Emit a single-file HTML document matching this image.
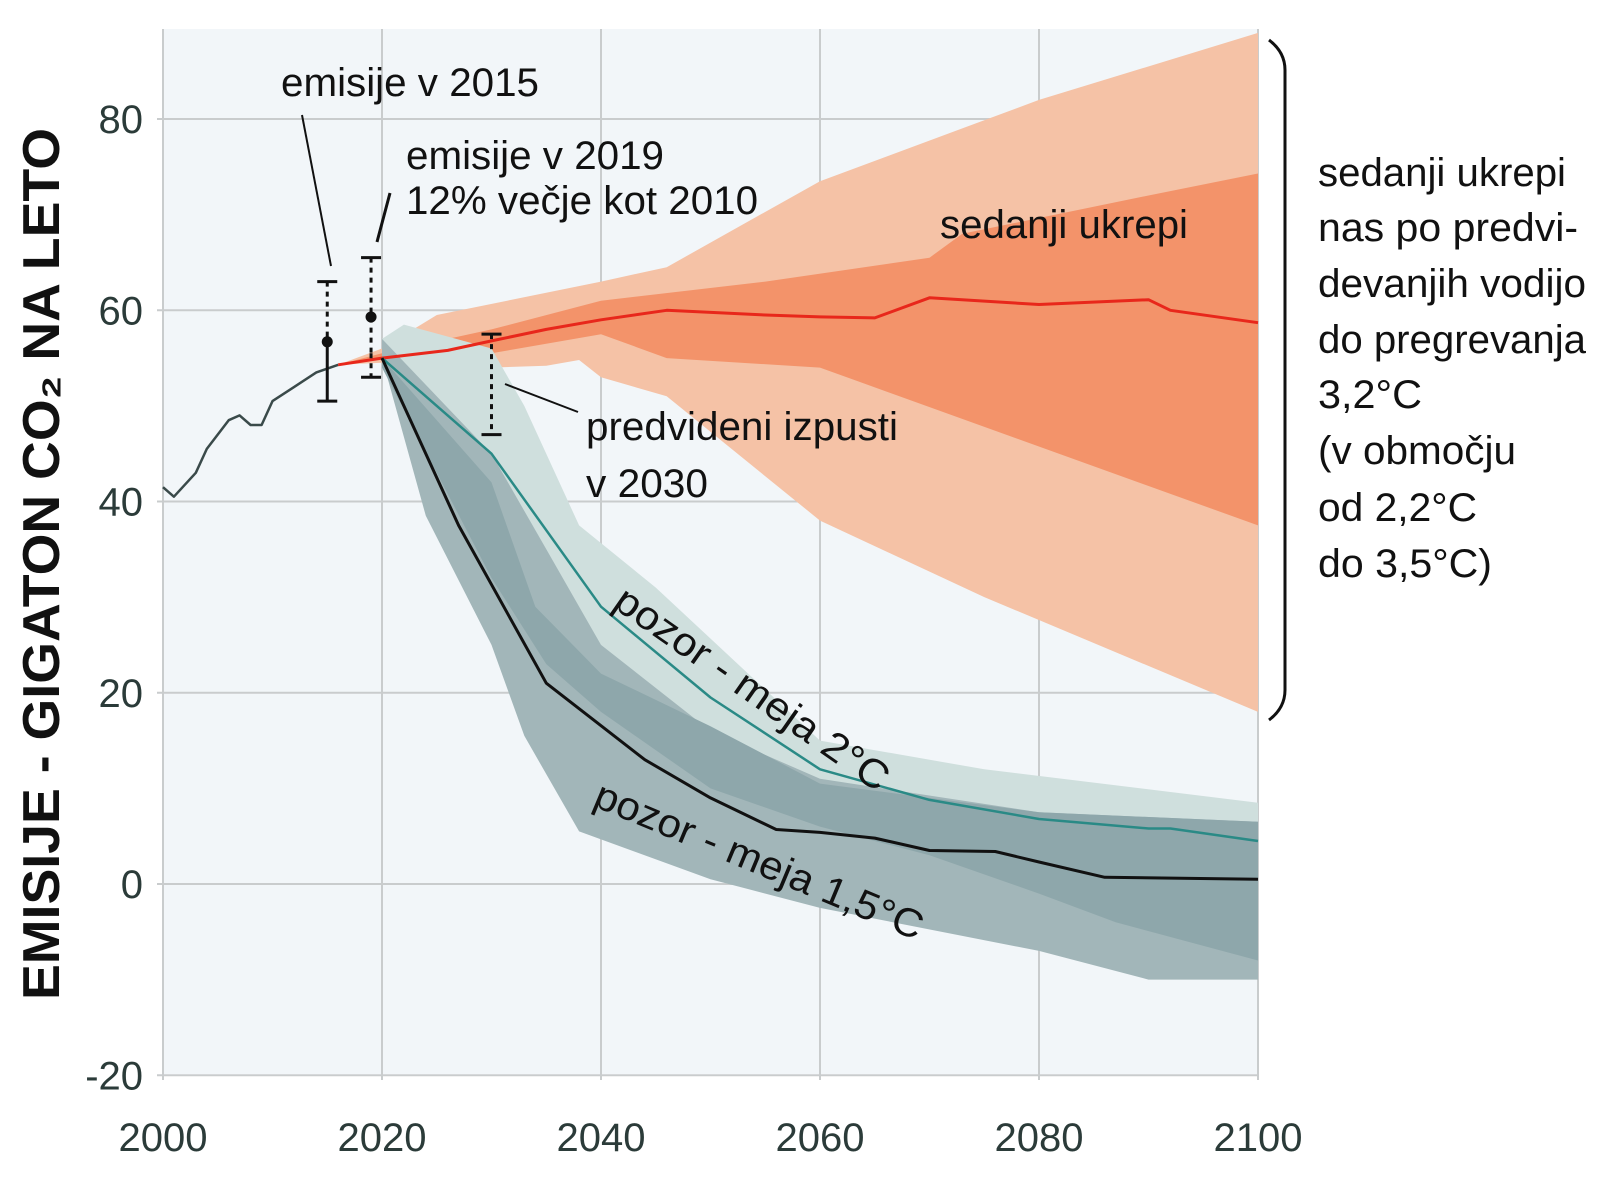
<!DOCTYPE html>
<html><head><meta charset="utf-8"><style>
html,body{margin:0;padding:0;background:#fff;}
svg{display:block;font-family:"Liberation Sans",sans-serif;}
</style></head><body>
<svg id="chart" width="1614" height="1180" viewBox="0 0 1614 1180" xmlns="http://www.w3.org/2000/svg">
<rect x="163" y="29" width="1095" height="1045" fill="#f2f6f9"/>
<g id="grid"></g>
<g id="bands"></g>
<g id="lines"></g>
<g id="errs"></g>
<g id="ticks"></g>
<text x="42" y="564" transform="rotate(-90 42 564)" text-anchor="middle" dominant-baseline="central" font-size="52" font-weight="bold" fill="#111" textLength="872" lengthAdjust="spacingAndGlyphs">EMISIJE - GIGATON CO₂ NA LETO</text>
<g font-size="40" fill="#111">
<text x="281" y="96" textLength="258" lengthAdjust="spacingAndGlyphs">emisije v 2015</text>
<text x="406" y="169" textLength="258" lengthAdjust="spacingAndGlyphs">emisije v 2019</text>
<text x="406" y="214" textLength="352" lengthAdjust="spacingAndGlyphs">12% večje kot 2010</text>
<text x="940" y="238" textLength="248" lengthAdjust="spacingAndGlyphs">sedanji ukrepi</text>
<text x="586" y="440" textLength="312" lengthAdjust="spacingAndGlyphs">predvideni izpusti</text>
<text x="586" y="497" textLength="122" lengthAdjust="spacingAndGlyphs">v 2030</text>
<text x="752" y="689" transform="rotate(35 752 689)" text-anchor="middle" dominant-baseline="central" textLength="325" lengthAdjust="spacingAndGlyphs">pozor - meja 2°C</text>
<text x="759" y="861" transform="rotate(22.6 759 861)" text-anchor="middle" dominant-baseline="central" textLength="352" lengthAdjust="spacingAndGlyphs">pozor - meja 1,5°C</text>
<line x1="302" y1="115" x2="331" y2="266" stroke="#111" stroke-width="2"/>
<line x1="390" y1="193" x2="377" y2="242" stroke="#111" stroke-width="3"/>
<line x1="505" y1="384" x2="578" y2="412" stroke="#111" stroke-width="2"/>
<path d="M1269 40 Q1285 52 1285 70 L1285 690 Q1285 708 1269 720" fill="none" stroke="#111" stroke-width="3"/>
<g>
<text x="1318" y="186" textLength="248" lengthAdjust="spacingAndGlyphs">sedanji ukrepi</text>
<text x="1318" y="241" textLength="260" lengthAdjust="spacingAndGlyphs">nas po predvi-</text>
<text x="1318" y="297" textLength="268" lengthAdjust="spacingAndGlyphs">devanjih vodijo</text>
<text x="1318" y="353" textLength="268" lengthAdjust="spacingAndGlyphs">do pregrevanja</text>
<text x="1318" y="408" textLength="104" lengthAdjust="spacingAndGlyphs">3,2°C</text>
<text x="1318" y="464" textLength="198" lengthAdjust="spacingAndGlyphs">(v območju</text>
<text x="1318" y="521" textLength="159" lengthAdjust="spacingAndGlyphs">od 2,2°C</text>
<text x="1318" y="577" textLength="174" lengthAdjust="spacingAndGlyphs">do 3,5°C)</text>
</g>
</g>
</svg>
<script>
const xTicks=[2000,2020,2040,2060,2080,2100];
const yTicks=[-20,0,20,40,60,80];
const histYears=[2000,2001,2003,2004,2006,2007,2008,2009,2010,2012,2014,2016];
const histVals=[41.5,40.5,43,45.5,48.5,49,48,48,50.5,52,53.5,54.3];
const curYears=[2016,2020,2026,2030,2035,2040,2046,2055,2060,2065,2070,2080,2090,2092,2100];
const curVals=[54.3,55,55.8,56.8,58,59,60,59.5,59.3,59.2,61.3,60.6,61.1,60,58.7];
const orOutUpY=[2016,2020,2025,2040,2046,2060,2080,2100];
const orOutUpV=[54.3,56,59.5,63,64.5,73.5,82,89];
const orOutLoY=[2016,2020,2030,2035,2038,2040,2046,2060,2075,2100];
const orOutLoV=[54.3,54.5,54,54.2,54.8,53,51,38,30,18];
const orInUpY=[2016,2020,2030,2040,2055,2070,2073,2090,2100];
const orInUpV=[54.3,55.5,58,61,63,65.5,68,72,74.3];
const orInLoY=[2016,2020,2030,2040,2046,2060,2100];
const orInLoV=[54.3,55,55.5,57.5,55,54,37.5];
const t2UpY=[2020,2022,2030,2033,2038,2045,2060,2075,2100];
const t2UpV=[57,58.5,56,50,37.5,31,15,12,8.5];
const t2LoY=[2020,2024,2030,2035,2040,2050,2060,2080,2090,2100];
const t2LoV=[54,48,38,28,21,13,8,2,-2,-3];
const t15UpY=[2020,2030,2035,2040,2050,2060,2080,2100];
const t15UpV=[57,45,35,25,16,11,7.5,6.5];
const t15LoY=[2020,2024,2030,2033,2038,2050,2060,2080,2090,2100];
const t15LoV=[55,38.5,25,15.5,5.5,0.5,-2.5,-7,-10,-10];
const midUpY=[2020,2030,2034,2040,2050,2060,2080,2100];
const midUpV=[55,42,29,22,16.5,10.5,7.5,6.5];
const midLoY=[2020,2030,2035,2040,2050,2060,2070,2080,2087,2100];
const midLoV=[54,32,23,18,10,6,3,-1,-4,-8];
const line2Years=[2020,2030,2040,2050,2060,2070,2080,2090,2092,2100];
const line2Vals=[55,45,29,19.5,12,8.8,6.8,5.8,5.8,4.5];
const line15Years=[2020,2027,2035,2044,2050,2056,2060,2065,2070,2076,2080,2086,2100];
const line15Vals=[55,37.5,21,13,9,5.7,5.4,4.8,3.5,3.4,2.3,0.7,0.5];
const errYears=[2015,2019,2030];
const errLow=[50.5,53,47];
const errHigh=[63,65.5,57.5];
const errDot=[56.7,59.3,null];
const errSolidTop=[56.7,55.5,null];

const X=y=>163+(y-2000)*10.95;
const Y=v=>884-v*9.5625;
const NS="http://www.w3.org/2000/svg";
function mk(tag,parent,attrs){const e=document.createElementNS(NS,tag);for(const k in attrs)e.setAttribute(k,attrs[k]);document.getElementById(parent).appendChild(e);return e;}
function pts(ys,vs){return ys.map((y,i)=>X(y).toFixed(1)+','+Y(vs[i]).toFixed(1));}
function band(uy,uv,ly,lv,fill,name){
  const p=pts(uy,uv).concat(pts(ly,lv).reverse());
  const e=mk('polygon','bands',{points:p.join(' '),fill:fill});
  
  
}
function line(ys,vs,stroke,w,name){
  const e=mk('polyline','lines',{points:pts(ys,vs).join(' '),fill:'none',stroke:stroke,'stroke-width':w,'stroke-linejoin':'round'});
  
  
}
yTicks.forEach(v=>{
  const g=mk('line','grid',{x1:157,x2:1258,y1:Y(v),y2:Y(v),stroke:'#c9cccd','stroke-width':2});
  
  
  const t=mk('text','ticks',{x:143,y:Y(v)+14,'text-anchor':'end','font-size':40,fill:'#2b3b39'});
  t.textContent=v;
  
  
});
xTicks.forEach(y=>{
  const g=mk('line','grid',{x1:X(y),x2:X(y),y1:29,y2:1080,stroke:'#c9cccd','stroke-width':2});
  
  
  const t=mk('text','ticks',{x:X(y),y:1151,'text-anchor':'middle','font-size':40,fill:'#2b3b39'});
  t.textContent=y;
  
  
});
band(orOutUpY,orOutUpV,orOutLoY,orOutLoV,'#f5c2a6','current-outer-band');
band(orInUpY,orInUpV,orInLoY,orInLoV,'#f3936a','current-inner-band');
band(t2UpY,t2UpV,t2LoY,t2LoV,'#cfdfdd','band-2c');
band(t15UpY,t15UpV,t15LoY,t15LoV,'#a2b6b9','band-1-5c');
band(midUpY,midUpV,midLoY,midLoV,'#8ea7ab','band-overlap');
line(histYears,histVals,'#3a4a4a',2.5,'historical-line');
line(curYears,curVals,'#e8271b',3,'current-policies-line');
line(line2Years,line2Vals,'#2a8a86',2.5,'line-2c');
line(line15Years,line15Vals,'#111',3,'line-1-5c');
errYears.forEach((yr,i)=>{
  const x=X(yr);
  const top=errSolidTop[i];
  const d=mk('line','errs',{x1:x,x2:x,y1:Y(errHigh[i]),y2:Y(top!==null?top:errLow[i]),stroke:'#111','stroke-width':3,'stroke-dasharray':'5,5'});
  
  
  if(top!==null){
    const s=mk('line','errs',{x1:x,x2:x,y1:Y(top),y2:Y(errLow[i]),stroke:'#111','stroke-width':3,'stroke-dasharray':yr===2019?'5,5':'none'});
    
    
  }
  [errHigh[i],errLow[i]].forEach(v=>{
    const c=mk('line','errs',{x1:x-10,x2:x+10,y1:Y(v),y2:Y(v),stroke:'#111','stroke-width':3});
    
    
  });
  if(errDot[i]!==null){
    const p=mk('circle','errs',{cx:x,cy:Y(errDot[i]),r:5.5,fill:'#111'});
    
    
  }
});
</script>
</body></html>
